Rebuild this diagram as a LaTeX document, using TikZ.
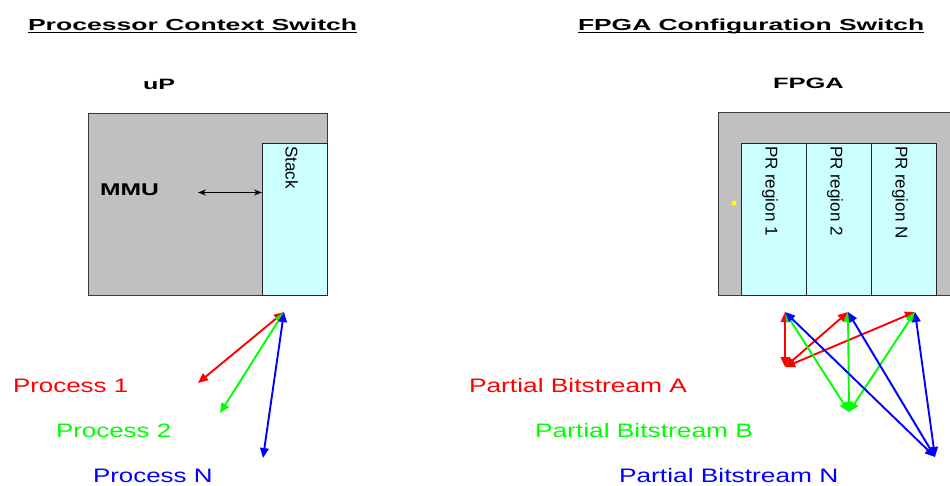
\documentclass[tikz,border=0pt]{standalone}
\usepackage{fontspec}
\setmainfont{Liberation Sans}
\usetikzlibrary{arrows.meta}
\definecolor{boxgray}{HTML}{C0C0C0}
\definecolor{edgegray}{HTML}{3A3A3A}
\definecolor{regioncyan}{HTML}{CCFFFF}
\definecolor{lred}{HTML}{FF0000}
\definecolor{lgreen}{HTML}{00FF00}
\definecolor{lblue}{HTML}{0000FF}
\definecolor{dotyellow}{HTML}{FFFF00}
% horizontally widened text
\newcommand\hstretch[2]{\scalebox{#1}[1]{#2}}
\begin{document}
\begin{tikzpicture}[x=1pt,y=-1pt,
  every node/.style={inner sep=0pt, outer sep=0pt},
  graybox/.style={fill=boxgray, draw=edgegray, line width=0.9pt},
  region/.style={fill=regioncyan, draw=black!85, line width=0.9pt},
  lbl/.style={font=\fontsize{19.5}{22}\selectfont, anchor=base west},
  ttl/.style={font=\fontsize{16}{19}\selectfont\bfseries, anchor=base west},
  chip/.style={font=\fontsize{15}{18}\selectfont\bfseries, anchor=base west},
  rot/.style={font=\fontsize{17}{20}\selectfont, rotate=-90, anchor=base west},
  link/.style={line width=1.9pt, {Triangle[length=10pt,width=8.5pt]}-{Triangle[length=10pt,width=8.5pt]}},
  thin link/.style={line width=1.4pt, {Stealth[length=8pt,width=6pt]}-{Stealth[length=8pt,width=6pt]}},
]
\useasboundingbox (0,0) rectangle (950,485);

% ---------- titles ----------
\node[ttl] (t1) at (28,30) {\hstretch{1.66}{Processor Context Switch}};
\node[ttl] (t2) at (578,30) {\hstretch{1.65}{FPGA Configuration Switch}};
\draw[line width=1.4pt] ([yshift=-2.6pt]t1.base west) -- ([yshift=-2.6pt]t1.base east);
\draw[line width=1.4pt] ([yshift=-2.6pt]t2.base west) -- ([yshift=-2.6pt]t2.base east);

\node[chip] (up) at (143,89) {\hstretch{1.67}{uP}};
\node[chip] (fpga) at (773,88) {\hstretch{1.7}{FPGA}};

% ---------- processor ----------
\node[graybox, anchor=north west, minimum width=239pt, minimum height=182pt] (cpu) at (88,113) {};
\node[region, anchor=north west, minimum width=65pt, minimum height=152pt] (stack) at (262,143) {};
\node[rot] (stacktxt) at (285.5,146) {Stack};
\node[font=\fontsize{17}{20}\selectfont\bfseries, anchor=base west] (mmu) at (100,195) {\hstretch{1.45}{MMU}};
\coordinate (mmuend) at (198,192.5);
\draw[thin link] (mmuend) -- (stack.west |- mmuend);

% ---------- FPGA ----------
\fill[boxgray] (718,112) rectangle (950,295);
\draw[edgegray, line width=0.9pt] (950,112) -- (718,112) -- (718,295) -- (950,295);
\node[region, anchor=north west, minimum width=65pt, minimum height=152pt] (r1) at (741,143) {};
\node[region, anchor=north west, minimum width=65pt, minimum height=152pt] (r2) at (806,143) {};
\node[region, anchor=north west, minimum width=65pt, minimum height=152pt] (rn) at (871,143) {};
\node[rot] (r1txt) at (765.5,146) {PR region 1};
\node[rot] (r2txt) at (830.5,146) {PR region 2};
\node[rot] (rntxt) at (895.5,146) {PR region N};
\fill[dotyellow] (734,203) circle (2.6pt);

% ---------- process labels ----------
\node[lbl, text=lred] (proc1) at (13,392) {\hstretch{1.33}{Process 1}};
\node[lbl, text=lgreen] (proc2) at (56,437) {\hstretch{1.33}{Process 2}};
\node[lbl, text=lblue] (procn) at (93,482) {\hstretch{1.33}{Process N}};

\node[lbl, text=lred] (bsa) at (469,392) {\hstretch{1.35}{Partial Bitstream A}};
\node[lbl, text=lgreen] (bsb) at (535,437) {\hstretch{1.35}{Partial Bitstream B}};
\node[lbl, text=lblue] (bsn) at (619,482) {\hstretch{1.35}{Partial Bitstream N}};

% ---------- connector end points ----------
\coordinate (sp) at (284,312);
\coordinate (e1) at (198,383);
\coordinate (e2) at (220,413);
\coordinate (en) at (263,458);

\coordinate (p1) at (785,312);
\coordinate (p2) at (848,312);
\coordinate (pn) at (915,312);
\coordinate (ba) at (785,367);
\coordinate (bb) at (849,412);
\coordinate (bn) at (935,457);

% ---------- processor context arrows ----------
\draw[link, lred] (sp) -- (e1);
\draw[link, lgreen] (sp) -- (e2);
\draw[link, lblue] (sp) -- (en);

% ---------- bitstream arrows ----------
\draw[link, lred] (ba) -- (p1);
\draw[link, lred] (ba) -- (p2);
\draw[link, lred] (ba) -- (pn);
\draw[link, lgreen] (bb) -- (p1);
\draw[link, lgreen] (bb) -- (p2);
\draw[link, lgreen] (bb) -- (pn);
\draw[link, lblue] (bn) -- (p1);
\draw[link, lblue] (bn) -- (p2);
\draw[link, lblue] (bn) -- (pn);
\end{tikzpicture}
\end{document}
